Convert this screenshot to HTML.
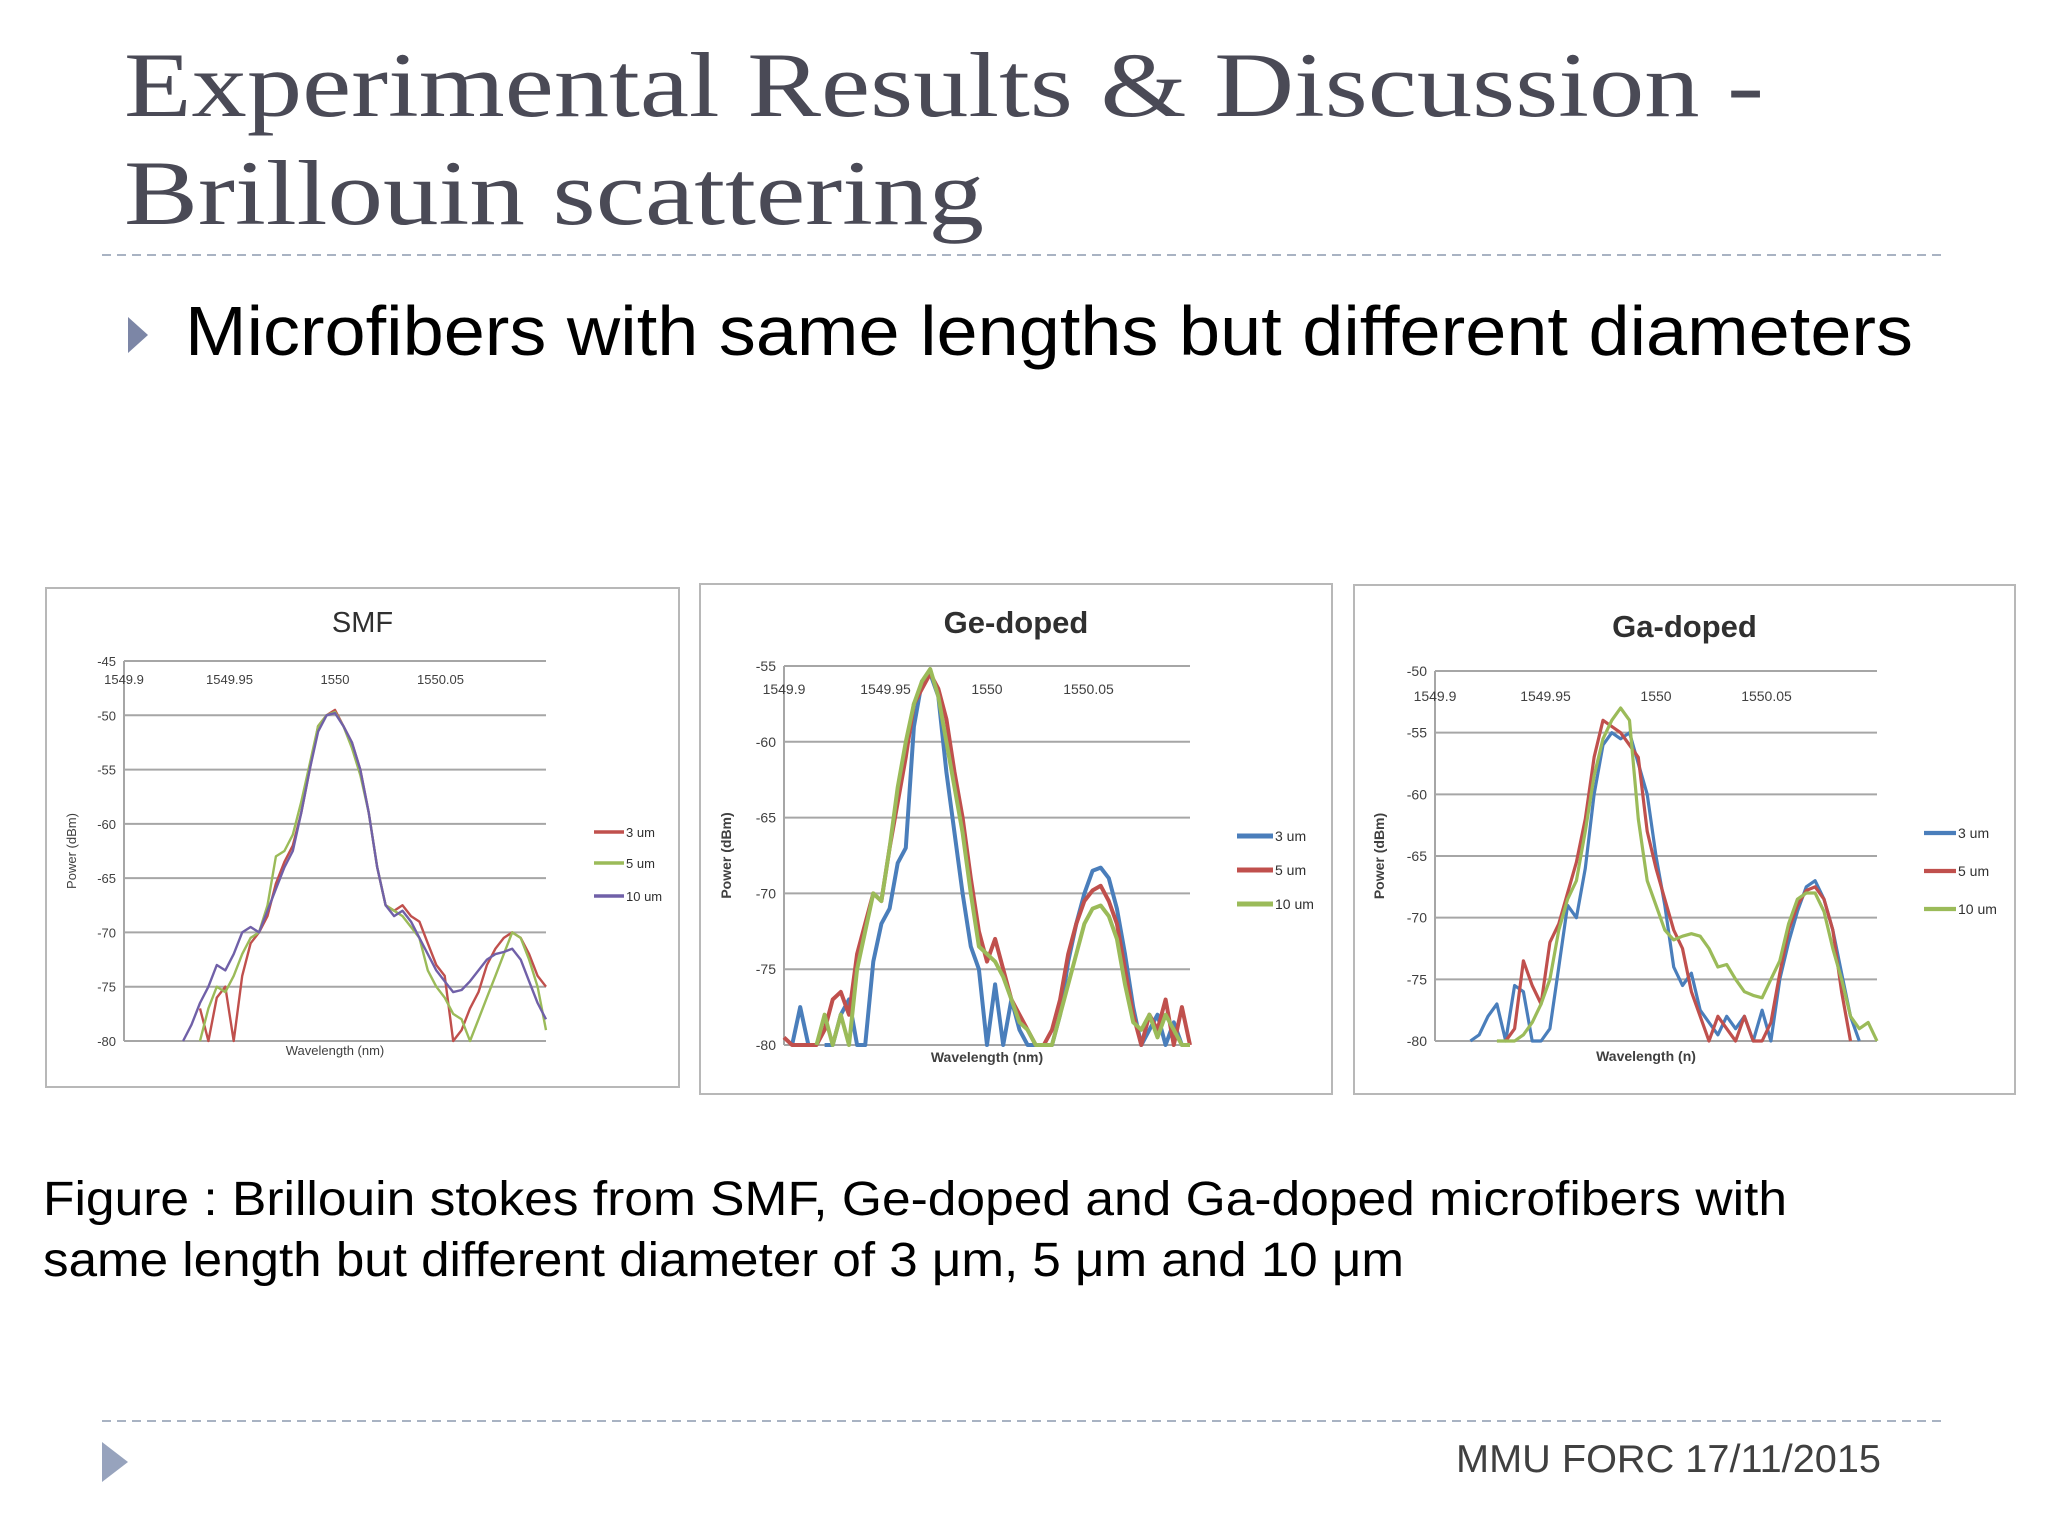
<!DOCTYPE html>
<html><head><meta charset="utf-8">
<style>
html,body{margin:0;padding:0;background:#fff;}
svg{display:block;}
</style></head>
<body>
<svg id="slide" width="2048" height="1536" viewBox="0 0 2048 1536" xmlns="http://www.w3.org/2000/svg">
  <rect width="2048" height="1536" fill="#ffffff"/>
  <g fill="#4a4a56" font-family="'Liberation Serif', serif" font-size="92">
    <text x="124" y="116" textLength="1640" lengthAdjust="spacingAndGlyphs">Experimental Results &amp; Discussion -</text>
    <text x="124" y="224" textLength="860" lengthAdjust="spacingAndGlyphs">Brillouin scattering</text>
  </g>
  <line x1="102" y1="255" x2="1946" y2="255" stroke="#a9b3c3" stroke-width="2" stroke-dasharray="9,6"/>
  <polygon points="128,317 148,335 128,353" fill="#7c86a6"/>
  <text x="185" y="355" font-family="'Liberation Sans', sans-serif" font-size="70" fill="#000" textLength="1728" lengthAdjust="spacingAndGlyphs">Microfibers with same lengths but different diameters</text>

  <g id="charts"></g>

  <g font-family="'Liberation Sans', sans-serif" font-size="48" fill="#000">
    <text x="43" y="1215" textLength="1744" lengthAdjust="spacingAndGlyphs">Figure : Brillouin stokes from SMF, Ge-doped and Ga-doped  microfibers with</text>
    <text x="43" y="1276" textLength="1361" lengthAdjust="spacingAndGlyphs">same length but different diameter of 3 μm, 5 μm and 10 μm</text>
  </g>
  <line x1="102" y1="1421" x2="1946" y2="1421" stroke="#a9b3c3" stroke-width="2" stroke-dasharray="9,6"/>
  <polygon points="102,1442 128,1462 102,1482" fill="#97a3bd"/>
  <text x="1456" y="1472" font-family="'Liberation Sans', sans-serif" font-size="39" fill="#404040" textLength="425" lengthAdjust="spacingAndGlyphs">MMU FORC 17/11/2015</text>
</svg>
<script>
// Shared wavelength grid: 1549.9 + 0.004*i, i = 0..50
const wavelengths = [1549.900,1549.904,1549.908,1549.912,1549.916,1549.920,1549.924,1549.928,1549.932,1549.936,1549.940,1549.944,1549.948,1549.952,1549.956,1549.960,1549.964,1549.968,1549.972,1549.976,1549.980,1549.984,1549.988,1549.992,1549.996,1550.000,1550.004,1550.008,1550.012,1550.016,1550.020,1550.024,1550.028,1550.032,1550.036,1550.040,1550.044,1550.048,1550.052,1550.056,1550.060,1550.064,1550.068,1550.072,1550.076,1550.080,1550.084,1550.088,1550.092,1550.096,1550.100];
const xTickLabels = ["1549.9","1549.95","1550","1550.05"];
const xTickValues = [1549.9,1549.95,1550.0,1550.05];
const seriesNames = ["3 um","5 um","10 um"];

// SMF
const smfYTicks = [-45,-50,-55,-60,-65,-70,-75,-80];
const smf3 = [null,null,null,null,null,null,null,null,null,-77,-80,-76,-75,-80,-74,-71,-70,-68.5,-65.5,-63.5,-62,-59,-55,-51,-50,-49.5,-51,-52.5,-55,-59,-64,-67.5,-68,-67.5,-68.5,-69,-71,-73,-74,-80,-79,-77,-75.5,-73,-71.5,-70.5,-70,-70.5,-72,-74,-75];
const smf5 = [null,null,null,null,null,null,null,null,null,-80,-77,-75,-75.5,-74,-72,-70.5,-70,-67.5,-63,-62.5,-61,-58,-54.5,-51,-50,-49.7,-51,-53,-55.5,-59,-64,-67.5,-68,-68.5,-69.5,-70.5,-73.5,-75,-76,-77.5,-78,-80,-78,-76,-74,-72,-70,-70.5,-72.5,-75,-79];
const smf10 = [null,null,null,null,null,null,null,-80,-78.5,-76.5,-75,-73,-73.5,-72,-70,-69.5,-70,-68,-66,-64,-62.5,-59,-55,-51.5,-50,-49.8,-51,-52.5,-55,-59,-64,-67.5,-68.5,-68,-69,-70.5,-72,-73.5,-74.5,-75.5,-75.3,-74.5,-73.5,-72.5,-72,-71.8,-71.5,-72.5,-74.5,-76.5,-78];

// Ge-doped
const geYTicks = [-55,-60,-65,-70,-75,-80];
const ge3 = [null,-80,-77.5,-80,null,-80,-80,-78,-77,-80,-80,-74.5,-72,-71,-68,-67,-59,-56,-55.5,-57,-62,-66,-70,-73.5,-75,-80,-76,-80,-77,-79,-80,-80,-80,-80,-78,-74.5,-72,-70,-68.5,-68.3,-69,-71,-74,-77.5,-80,-79,-78,-80,-78.5,-80,-80];
const ge5 = [-79.5,-80,-80,-80,-80,-79,-77,-76.5,-78,-74,-72,-70,-70.5,-67,-64,-61,-57.5,-56.5,-55.5,-56.5,-58.5,-62,-65,-69,-72.5,-74.5,-73,-75,-77,-78,-79,-80,-80,-79,-77,-74,-72,-70.5,-69.8,-69.5,-70.5,-72,-75,-78,-80,-78,-79,-77,-80,-77.5,-80];
const ge10 = [null,null,null,null,-80,-78,-80,-78,-80,-75,-72.5,-70,-70.5,-67,-63,-60,-57.5,-56,-55.2,-57,-60,-63,-66,-70,-73.5,-74,-74.5,-75.5,-77,-78.5,-79,-80,-80,-80,-78,-76,-74,-72,-71,-70.8,-71.5,-73,-76,-78.5,-79,-78,-79.5,-78,-79,-80,-80];

// Ga-doped
const gaYTicks = [-50,-55,-60,-65,-70,-75,-80];
const ga3 = [-80,null,null,null,-80,-79.5,-78,-77,-80,-75.5,-76,-80,-80,-79,-74,-69,-70,-66,-60,-56,-55,-55.5,-55,-57.5,-60,-65,-69,-74,-75.5,-74.5,-77.5,-78.5,-79.5,-78,-79,-78,-80,-77.5,-80,-75,-72,-69.5,-67.5,-67,-68.5,-71,-74.5,-78,-80,null,null];
const ga5 = [null,null,null,null,null,null,null,null,-80,-79,-73.5,-75.5,-77,-72,-70.5,-68,-65.5,-62,-57,-54,-54.5,-55,-56,-57,-63,-66,-68.5,-71,-72.5,-76,-78,-80,-78,-79,-80,-78,-80,-80,-78.5,-74.5,-71,-69,-67.8,-67.5,-68.5,-71,-76,-80,null,null,null];
const ga10 = [null,null,null,null,null,null,null,-80,-80,-80,-79.5,-78.5,-77,-75,-71,-68.5,-67,-63,-58.5,-55.5,-54,-53,-54,-62,-67,-69,-71,-71.8,-71.5,-71.3,-71.5,-72.5,-74,-73.8,-75,-76,-76.3,-76.5,-75,-73.5,-70.5,-68.5,-68,-68,-69.5,-72.5,-75,-78,-79,-78.5,-80];

const NS = "http://www.w3.org/2000/svg";
function mk(tag, attrs, parent){
  const e = document.createElementNS(NS, tag);
  for (const k in attrs) e.setAttribute(k, attrs[k]);
  parent.appendChild(e);
  return e;
}

const charts = [
  {key:"smf", title:"SMF", box:[46,588,633,499], plot:[124,661,422,380], yTicks:smfYTicks, yMin:-80, yMax:-45,
   series:[smf3,smf5,smf10], colors:["#c0504d","#9bbb59","#7060a8"], lw:2.4, xTitle:"Wavelength (nm)",
   legendX:594, legendY:[832,863,896], legendLen:30, fs:13, titleFs:29, titleW:"normal", titleY:632, ytX:76, xtY:1055, tickY:684},
  {key:"ge", title:"Ge-doped", box:[700,584,632,510], plot:[784,666,406,379], yTicks:geYTicks, yMin:-80, yMax:-55,
   series:[ge3,ge5,ge10], colors:["#4a7ebb","#c0504d","#9bbb59"], lw:4, xTitle:"Wavelength (nm)",
   legendX:1237, legendY:[836,870,904], legendLen:36, fs:14, titleFs:31, titleW:"bold", titleY:633, ytX:731, xtY:1062, tickY:694},
  {key:"ga", title:"Ga-doped", box:[1354,585,661,509], plot:[1435,671,442,370], yTicks:gaYTicks, yMin:-80, yMax:-50,
   series:[ga3,ga5,ga10], colors:["#4a7ebb","#c0504d","#9bbb59"], lw:3.2, xTitle:"Wavelength (n)",
   legendX:1924, legendY:[833,871,909], legendLen:32, fs:14, titleFs:31, titleW:"bold", titleY:637, ytX:1384, xtY:1061, tickY:701}
];

const root = document.getElementById("charts");
charts.forEach(c => {
  const g = mk("g", {}, root);
  
  
  const [bx,by,bw,bh] = c.box;
  const frame = mk("rect", {x:bx, y:by, width:bw, height:bh, fill:"#fff", stroke:"#b8b8b8", "stroke-width":2}, g);
  
  
  const [px,py,pw,ph] = c.plot;
  const xScale = v => px + (v - 1549.9) / 0.2 * pw;
  const yScale = v => py + (c.yMax - v) / (c.yMax - c.yMin) * ph;

  const t = mk("text", {x:bx+bw/2, y:c.titleY, "text-anchor":"middle", "font-family":"'Liberation Sans', sans-serif", "font-size":c.titleFs, "font-weight":c.titleW, fill:"#303030"}, g);
  t.textContent = c.title;
  
  

  c.yTicks.forEach(v => {
    const y = yScale(v);
    const gl = mk("line", {x1:px, y1:y, x2:px+pw, y2:y, stroke:"#a6a6a6", "stroke-width":2}, g);
    
    
    const tl = mk("text", {x:px-8, y:y+5, "text-anchor":"end", "font-family":"'Liberation Sans', sans-serif", "font-size":c.fs, fill:"#404040"}, g);
    tl.textContent = String(v);
    
    
  });
  const ax = mk("line", {x1:px, y1:py, x2:px, y2:py+ph, stroke:"#a6a6a6", "stroke-width":2}, g);
  
  

  xTickValues.forEach((v,i) => {
    const xl = mk("text", {x:xScale(v), y:c.tickY, "text-anchor":"middle", "font-family":"'Liberation Sans', sans-serif", "font-size":c.fs, fill:"#404040"}, g);
    xl.textContent = xTickLabels[i];
    
    
  });

  const cy = py + ph/2;
  const yt = mk("text", {x:c.ytX, y:cy, "text-anchor":"middle", transform:`rotate(-90 ${c.ytX} ${cy})`, "font-family":"'Liberation Sans', sans-serif", "font-size":c.fs, "font-weight":c.key==="smf"?"normal":"bold", fill:"#404040"}, g);
  yt.textContent = "Power (dBm)";
  
  
  const xt = mk("text", {x:px+pw/2-(c.key==="ga"?10:0), y:c.xtY, "text-anchor":"middle", "font-family":"'Liberation Sans', sans-serif", "font-size":c.fs, "font-weight":c.key==="smf"?"normal":"bold", fill:"#404040"}, g);
  xt.textContent = c.xTitle;
  
  

  c.series.forEach((vals, si) => {
    let d = "", pen = false;
    vals.forEach((v, i) => {
      if (v === null) { pen = false; return; }
      d += (pen ? "L" : "M") + xScale(wavelengths[i]).toFixed(1) + "," + yScale(v).toFixed(1);
      pen = true;
    });
    const p = mk("path", {d:d, fill:"none", stroke:c.colors[si], "stroke-width":c.lw, "stroke-linejoin":"round"}, g);
    
    

    const ly = c.legendY[si];
    const ll = mk("line", {x1:c.legendX, y1:ly, x2:c.legendX+c.legendLen, y2:ly, stroke:c.colors[si], "stroke-width":c.lw+1}, g);
    
    
    const lt = mk("text", {x:c.legendX+c.legendLen+2, y:ly+5, "font-family":"'Liberation Sans', sans-serif", "font-size":c.fs, fill:"#303030"}, g);
    lt.textContent = seriesNames[si];
    
    
  });
});
</script>
</body></html>
